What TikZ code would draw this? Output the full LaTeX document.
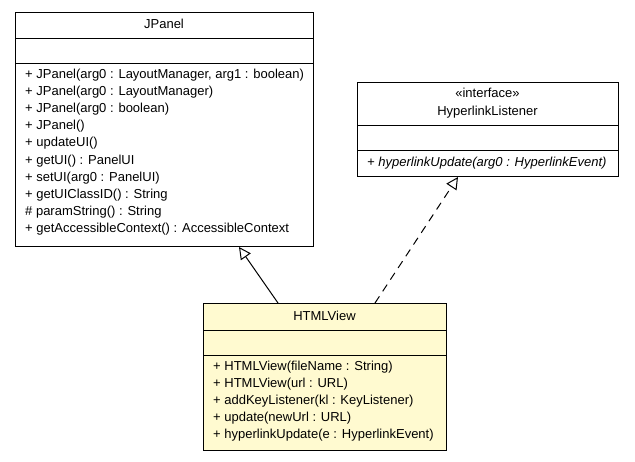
\documentclass[tikz,border=0pt]{standalone}
\usepackage{fontspec}
\setmainfont{Liberation Sans}
\usetikzlibrary{arrows.meta}
\definecolor{noteyellow}{RGB}{255,250,208}
\tikzset{
  umlbox/.style={draw=black, line width=1pt, inner sep=0pt, anchor=north west},
  sepline/.style={draw=black, line width=1pt},
  txt/.style={font=\fontsize{13}{15}\selectfont, inner sep=0pt, anchor=west, text height=9pt, text depth=3pt},
  ctxt/.style={txt, anchor=center},
  gen/.style={line width=1pt, -{Triangle[open, length=12pt, width=12pt, fill=white]}},
  real/.style={gen, dash pattern=on 8pt off 6pt}
}
\begin{document}
\begin{tikzpicture}[x=1pt, y=-1pt]
\useasboundingbox (0,0) rectangle (635,461);
% JPanel
\node[umlbox, minimum width=298pt, minimum height=234pt] (jpanel) at (15,12) {};
\draw[sepline] (15,38) -- (313,38);
\draw[sepline] (15,63) -- (313,63);
\node[ctxt] (jpname) at (164,25) {JPanel};
\node[txt] (jm1) at (25,75) {+ JPanel(arg0 : LayoutManager, arg1 : boolean)};
\node[txt] (jm2) at (25,92.2) {+ JPanel(arg0 : LayoutManager)};
\node[txt] (jm3) at (25,109.4) {+ JPanel(arg0 : boolean)};
\node[txt] (jm4) at (25,126.6) {+ JPanel()};
\node[txt] (jm5) at (25,143.8) {+ updateUI()};
\node[txt] (jm6) at (25,161) {+ getUI() : PanelUI};
\node[txt] (jm7) at (25,178.2) {+ setUI(arg0 : PanelUI)};
\node[txt] (jm8) at (25,195.4) {+ getUIClassID() : String};
\node[txt] (jm9) at (25,212.6) {\# paramString() : String};
\node[txt] (jm10) at (25,229.8) {+ getAccessibleContext() : AccessibleContext};
% HyperlinkListener
\node[umlbox, minimum width=261pt, minimum height=94pt] (hl) at (357,82) {};
\draw[sepline] (357,125) -- (618,125);
\draw[sepline] (357,150) -- (618,150);
\node[ctxt] (hlster) at (487.5,94) {«interface»};
\node[ctxt] (hlname) at (487.5,112) {HyperlinkListener};
\node[txt] (hlm1) at (367,163) {\itshape + hyperlinkUpdate(arg0 : HyperlinkEvent)};
% HTMLView
\node[umlbox, fill=noteyellow, minimum width=243pt, minimum height=147pt] (hv) at (203,303) {};
\draw[sepline] (203,330) -- (446,330);
\draw[sepline] (203,355) -- (446,355);
\node[ctxt] (hvname) at (324.5,317) {HTMLView};
\node[txt] (hm1) at (213,367) {+ HTMLView(fileName : String)};
\node[txt] (hm2) at (213,384.2) {+ HTMLView(url : URL)};
\node[txt] (hm3) at (213,401.4) {+ addKeyListener(kl : KeyListener)};
\node[txt] (hm4) at (213,418.6) {+ update(newUrl : URL)};
\node[txt] (hm5) at (213,435.8) {+ hyperlinkUpdate(e : HyperlinkEvent)};
% connectors
\coordinate (genstart) at (hv.north west -| 278,0);
\coordinate (genend) at (jpanel.south west -| 239,0);
\coordinate (realstart) at (hv.north west -| 375,0);
\coordinate (realend) at (hl.south west -| 458,0);
\draw[gen] (genstart) -- (genend);
\draw[real] (realstart) -- (realend);
\end{tikzpicture}
\end{document}
